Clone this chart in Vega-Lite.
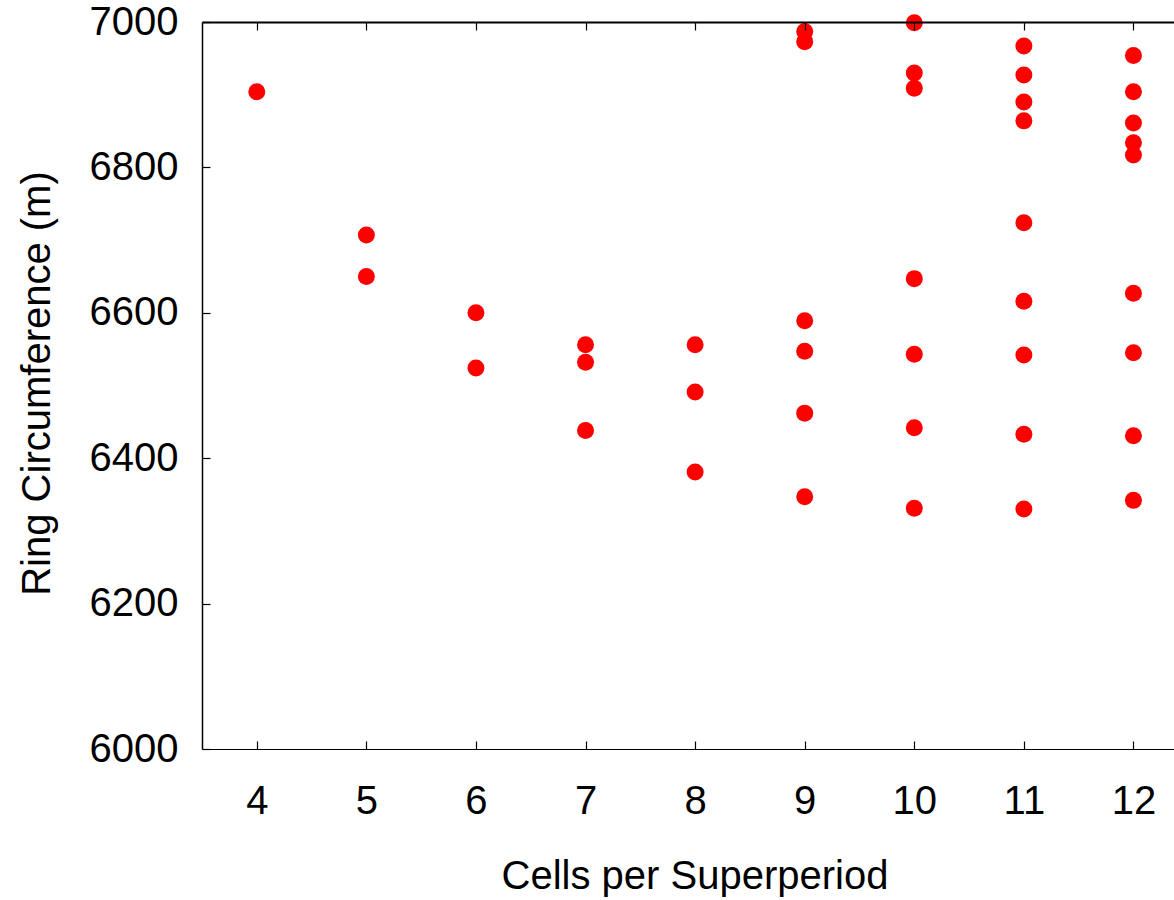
{
  "$schema": "https://vega.github.io/schema/vega-lite/v6.json",
  "autosize": "none",
  "width": 972,
  "height": 727,
  "padding": {"left": 202, "top": 22, "right": 0, "bottom": 151},
  "background": "white",
  "config": {
    "font": "Liberation Sans",
    "view": {"stroke": null},
    "axis": {
      "grid": false,
      "ticks": true,
      "labelFont": "Liberation Sans",
      "titleFont": "Liberation Sans",
      "labelFontSize": 40,
      "titleFontSize": 40,
      "labelColor": "black",
      "titleColor": "black",
      "titleFontWeight": "normal",
      "domainColor": "black",
      "tickColor": "black",
      "tickWidth": 1.2,
      "tickSize": -8,
      "labelFlush": false,
      "labelOverlap": false
    }
  },
  "data": {
    "values": [
      {"cells": 4, "circ": 6904},
      {"cells": 5, "circ": 6707},
      {"cells": 5, "circ": 6650},
      {"cells": 6, "circ": 6600},
      {"cells": 6, "circ": 6524},
      {"cells": 7, "circ": 6556},
      {"cells": 7, "circ": 6532},
      {"cells": 7, "circ": 6438},
      {"cells": 8, "circ": 6556},
      {"cells": 8, "circ": 6491},
      {"cells": 8, "circ": 6381},
      {"cells": 9, "circ": 6987},
      {"cells": 9, "circ": 6973},
      {"cells": 9, "circ": 6589},
      {"cells": 9, "circ": 6547},
      {"cells": 9, "circ": 6462},
      {"cells": 9, "circ": 6347},
      {"cells": 10, "circ": 6999},
      {"cells": 10, "circ": 6930},
      {"cells": 10, "circ": 6909},
      {"cells": 10, "circ": 6647},
      {"cells": 10, "circ": 6543},
      {"cells": 10, "circ": 6442},
      {"cells": 10, "circ": 6331},
      {"cells": 11, "circ": 6967},
      {"cells": 11, "circ": 6927},
      {"cells": 11, "circ": 6890},
      {"cells": 11, "circ": 6864},
      {"cells": 11, "circ": 6724},
      {"cells": 11, "circ": 6616},
      {"cells": 11, "circ": 6542},
      {"cells": 11, "circ": 6433},
      {"cells": 11, "circ": 6330},
      {"cells": 12, "circ": 6954},
      {"cells": 12, "circ": 6904},
      {"cells": 12, "circ": 6861},
      {"cells": 12, "circ": 6834},
      {"cells": 12, "circ": 6817},
      {"cells": 12, "circ": 6627},
      {"cells": 12, "circ": 6545},
      {"cells": 12, "circ": 6431},
      {"cells": 12, "circ": 6342}
    ]
  },
  "layer": [
    {
      "mark": {"type": "point", "filled": true, "shape": "circle", "size": 289, "color": "#ff0000", "opacity": 1},
      "encoding": {
        "x": {
          "field": "cells", "type": "quantitative",
          "scale": {"domain": [3.5, 12.37], "nice": false, "zero": false},
          "axis": {
            "orient": "bottom",
            "title": "Cells per Superperiod",
            "values": [4, 5, 6, 7, 8, 9, 10, 11, 12],
            "format": "d",
            "labelPadding": 72,
            "labelBaseline": "alphabetic",
            "domainWidth": 1,
            "titleX": 492.5,
            "titleY": 139,
            "titleBaseline": "alphabetic",
            "titleAlign": "center"
          }
        },
        "y": {
          "field": "circ", "type": "quantitative",
          "scale": {"domain": [6000, 7000], "nice": false, "zero": false},
          "axis": {
            "title": "Ring Circumference (m)",
            "values": [6000, 6200, 6400, 6600, 6800, 7000],
            "format": "d",
            "labelPadding": 32,
            "labelBaseline": "middle",
            "domainWidth": 1.5,
            "zindex": 1,
            "titleAngle": 270,
            "titleX": -153,
            "titleY": 361,
            "titleBaseline": "alphabetic",
            "titleAlign": "center"
          }
        }
      }
    },
    {
      "mark": {"type": "point", "filled": true, "size": 289, "opacity": 0},
      "encoding": {
        "x": {
          "field": "cells", "type": "quantitative",
          "scale": {"domain": [3.5, 12.37], "nice": false, "zero": false},
          "axis": {
            "orient": "top",
            "title": null,
            "labels": false,
            "values": [4, 5, 6, 7, 8, 9, 10, 11, 12],
            "domainWidth": 2,
            "zindex": 1
          }
        },
        "y": {"field": "circ", "type": "quantitative"}
      }
    }
  ],
  "resolve": {"axis": {"x": "independent"}}
}
